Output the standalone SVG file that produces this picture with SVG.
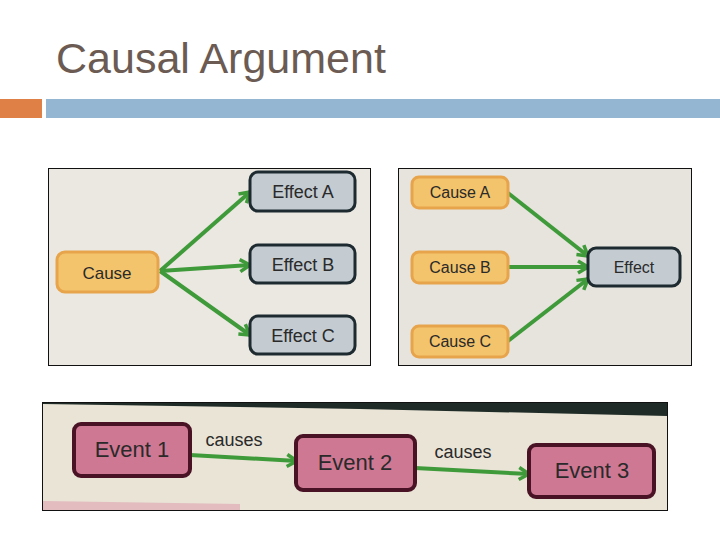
<svg xmlns="http://www.w3.org/2000/svg" width="720" height="540" viewBox="0 0 720 540">
<style>
.title{font-family:"Liberation Sans",Arial,sans-serif;font-size:43px;fill:#6b5b53}
.photo{stroke:#111;stroke-width:1}
.cause{fill:#f3c46c;stroke:#e8a44a;stroke-width:3}
.effect{fill:#c4ccd2;stroke:#1d2a30;stroke-width:3}
.event{fill:#cf7893;stroke:#4a1225;stroke-width:4}
.lbl{font-family:"Liberation Sans",Arial,sans-serif;fill:#2a2a2a;text-anchor:middle}
.arrow{stroke:#3f9a3a;stroke-width:4;fill:none;marker-end:url(#head)}
</style>
<defs>
<marker id="head" markerUnits="userSpaceOnUse" markerWidth="16" markerHeight="16" viewBox="0 0 16 16" refX="13" refY="8" orient="auto">
<path d="M3,2 L13,8 L3,14" fill="none" stroke="#3f9a3a" stroke-width="3.5" stroke-linejoin="round"/>
</marker>
</defs>
<rect width="720" height="540" fill="#fff"/>
<text class="title" x="56" y="73">Causal Argument</text>
<rect x="0" y="99" width="42" height="19" fill="#df8047"/>
<rect x="46" y="99" width="674" height="19" fill="#94b6d2"/>

<!-- photos -->
<rect class="photo" x="48.5" y="168.5" width="322" height="197" fill="#ebe8e1"/>
<rect class="photo" x="398.5" y="168.5" width="293" height="197" fill="#e7e4dd"/>
<rect class="photo" x="42.5" y="402.5" width="625" height="108" fill="#e9e4d6"/>
<polygon points="43,403 667,403 667,416 360,409 43,404" fill="#1f2b27"/>
<polygon points="43,501 240,504 240,510 43,510" fill="#e2bcbf"/>

<g id="connectors">
<line class="arrow" x1="160" y1="271" x2="250" y2="192"/>
<line class="arrow" x1="160" y1="271" x2="250" y2="265"/>
<line class="arrow" x1="160" y1="271" x2="250" y2="335"/>
<line class="arrow" x1="508" y1="193" x2="588" y2="256"/>
<line class="arrow" x1="508" y1="267" x2="588" y2="267"/>
<line class="arrow" x1="508" y1="341" x2="588" y2="279"/>
<line class="arrow" x1="190" y1="455" x2="297" y2="461"/>
<line class="arrow" x1="415" y1="468" x2="529" y2="474"/>
<text class="lbl" x="234" y="446" font-size="18">causes</text>
<text class="lbl" x="463" y="458" font-size="18">causes</text>
</g>

<g id="cause"><rect class="cause" x="57" y="252" width="101" height="40" rx="8"/><text class="lbl" x="107" y="279" font-size="17">Cause</text></g>
<g id="effectA"><rect class="effect" x="250" y="172" width="105" height="39" rx="8"/><text class="lbl" x="303" y="198" font-size="18">Effect A</text></g>
<g id="effectB"><rect class="effect" x="250" y="245" width="105" height="38" rx="8"/><text class="lbl" x="303" y="271" font-size="18">Effect B</text></g>
<g id="effectC"><rect class="effect" x="250" y="316" width="105" height="38" rx="8"/><text class="lbl" x="303" y="342" font-size="18">Effect C</text></g>

<g id="causeA"><rect class="cause" x="412" y="177" width="96" height="31" rx="7"/><text class="lbl" x="460" y="198" font-size="16">Cause A</text></g>
<g id="causeB"><rect class="cause" x="412" y="252" width="96" height="31" rx="7"/><text class="lbl" x="460" y="273" font-size="16">Cause B</text></g>
<g id="causeC"><rect class="cause" x="412" y="326" width="96" height="31" rx="7"/><text class="lbl" x="460" y="347" font-size="16">Cause C</text></g>
<g id="effect"><rect class="effect" x="588" y="248" width="92" height="38" rx="8"/><text class="lbl" x="634" y="273" font-size="16">Effect</text></g>

<g id="event1"><rect class="event" x="74" y="424" width="116" height="52" rx="7"/><text class="lbl" x="132" y="457" font-size="22">Event 1</text></g>
<g id="event2"><rect class="event" x="296" y="436" width="119" height="54" rx="7"/><text class="lbl" x="355" y="470" font-size="22">Event 2</text></g>
<g id="event3"><rect class="event" x="529" y="445" width="125" height="52" rx="7"/><text class="lbl" x="592" y="478" font-size="22">Event 3</text></g>
</svg>
